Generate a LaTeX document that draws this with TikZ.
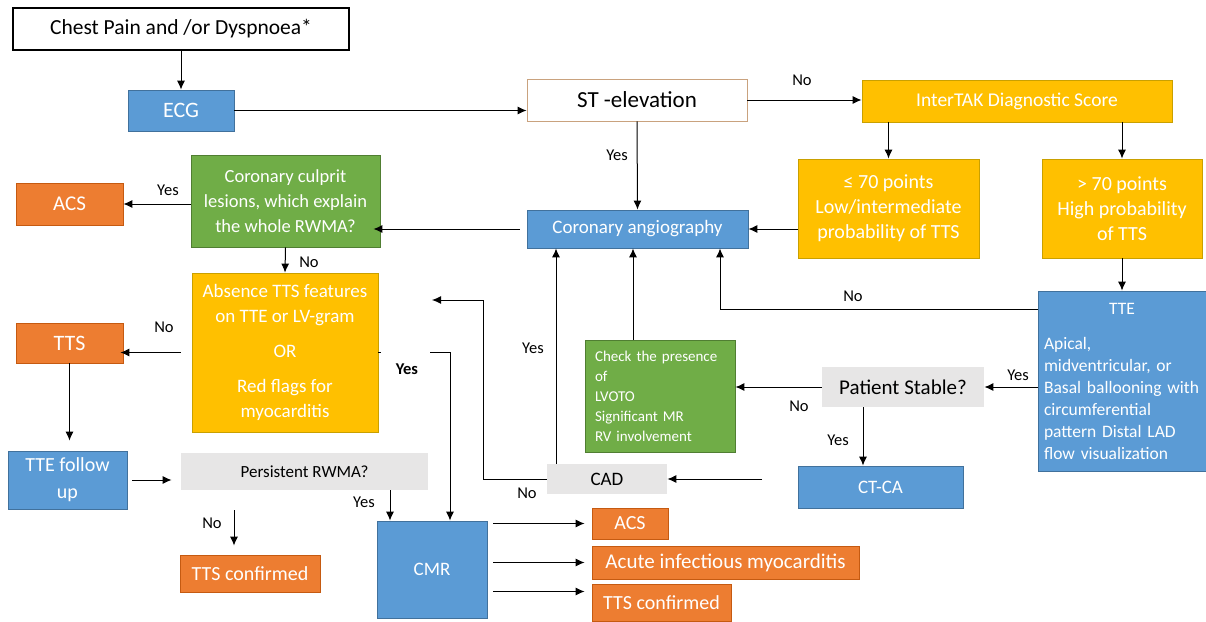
\documentclass[tikz,border=0pt]{standalone}
\usepackage{fontspec}
\setmainfont{Carlito}
\usetikzlibrary{arrows.meta}
\definecolor{cblue}{HTML}{5B9BD5}
\definecolor{cblueD}{HTML}{41719C}
\definecolor{corange}{HTML}{ED7D31}
\definecolor{corangeD}{HTML}{C55A11}
\definecolor{camber}{HTML}{FFC000}
\definecolor{camberD}{HTML}{C9A000}
\definecolor{cgreen}{HTML}{70AD47}
\definecolor{cgreenD}{HTML}{507E32}
\definecolor{cgrey}{HTML}{E7E6E6}
\definecolor{cst}{HTML}{C9A27E}
\newcommand{\myfs}[2]{\fontsize{#1}{#2}\selectfont}
\begin{document}
\begin{tikzpicture}[x=1pt,y=-1pt,
 box/.style={draw, line width=0.8pt, align=center, inner sep=2pt, text=white},
 bluebox/.style={box, fill=cblue, draw=cblueD},
 orbox/.style={box, fill=corange, draw=corangeD},
 ambox/.style={box, fill=camber, draw=camberD},
 grbox/.style={box, fill=cgreen, draw=cgreenD},
 greybox/.style={box, fill=cgrey, draw=none, text=black},
 arr/.style={-{Latex[length=9pt,width=8pt]}, line width=1pt},
 lab/.style={font=\myfs{16.5}{18}, inner sep=0pt},
 sz/.style 2 args={minimum width=#1, minimum height=#2}
]
\useasboundingbox[fill=white] (0,0) rectangle (1206,621);

% nodes
\node[box, fill=white, draw=black, line width=1.2pt, text=black, sz={336pt}{42pt}, font=\myfs{21.5}{26}] (chest) at (181,29) {Chest Pain and /or Dyspnoea*};
\node[bluebox, sz={106pt}{41pt}, font=\myfs{22}{26}] (ecg) at (181,110.5) {ECG};
\node[box, fill=white, draw=cst, text=black, sz={220pt}{42pt}, font=\myfs{23}{26}] (st) at (637,100) {ST -elevation};
\node[ambox, sz={310pt}{42pt}, font=\myfs{19.5}{24}] (itak) at (1017,101) {InterTAK Diagnostic Score};
\node[ambox, sz={181pt}{99pt}, font=\myfs{20}{25}] (le70) at (888.5,208.5) {≤ 70 points\\Low/intermediate\\probability of TTS};
\node[ambox, sz={160pt}{99pt}, font=\myfs{20}{25}] (gt70) at (1122,208.5) {> 70 points\\High probability\\of TTS};
\node[bluebox, sz={168pt}{180pt}, font=\myfs{17.5}{22}, text width=156pt, inner xsep=6pt, align=left] (tte) at (1122,381)
  {\makebox[\hsize][c]{TTE}\\[13pt]Apical,\\midventricular, or\\Basal ballooning with\\circumferential\\pattern Distal LAD\\flow visualization};
\node[bluebox, sz={221pt}{38pt}, font=\myfs{19}{24}] (ca) at (637.5,229) {Coronary angiography};
\node[grbox, sz={189pt}{92pt}, font=\myfs{18.5}{25}] (culprit) at (285.5,201) {Coronary culprit\\lesions, which explain\\the whole RWMA?};
\node[orbox, sz={107pt}{42pt}, font=\myfs{21}{25}] (acs1) at (69.5,204) {ACS};
\node[ambox, sz={186pt}{159pt}, font=\myfs{19}{25}] (absn) at (285,352.5) {Absence TTS features\\on TTE or LV-gram\\[10pt]OR\\[10pt]Red flags for\\myocarditis};
\node[orbox, sz={107pt}{40pt}, font=\myfs{22}{25}] (tts1) at (69.5,343) {TTS};
\node[bluebox, sz={119pt}{58pt}, font=\myfs{20}{27}] (ttefu) at (67.5,480) {TTE follow\\up};
\node[greybox, sz={247pt}{37pt}, font=\myfs{17}{22}] (pers) at (304.5,471.5) {Persistent RWMA?};
\node[orbox, sz={140pt}{37pt}, font=\myfs{20}{24}] (ttsc1) at (250,573.5) {TTS confirmed};
\node[bluebox, sz={110pt}{97pt}, font=\myfs{19}{24}] (cmr) at (432,569.5) {CMR};
\node[grbox, sz={150pt}{112pt}, font=\myfs{15}{20}, text width=130pt, inner xsep=10pt, align=left] (check) at (660,396) {Check the presence\\of\\LVOTO\\Significant MR\\RV involvement};
\node[greybox, sz={162pt}{40pt}, font=\myfs{21}{25}] (stable) at (903,387) {Patient Stable?};
\node[greybox, sz={120pt}{30pt}, font=\myfs{19}{24}] (cad) at (607,479) {CAD};
\node[bluebox, sz={165pt}{42pt}, font=\myfs{19}{24}] (ctca) at (880.5,487) {CT-CA};
\node[orbox, sz={76pt}{31pt}, font=\myfs{20}{24}] (acs2) at (630,523.5) {ACS};
\node[orbox, sz={267pt}{33pt}, font=\myfs{21}{24}] (aim) at (725.5,562.5) {Acute infectious myocarditis};
\node[orbox, sz={139pt}{37pt}, font=\myfs{20}{24}] (ttsc2) at (661.5,602.5) {TTS confirmed};

% free coordinates
\coordinate (cadin) at (762,479);
\coordinate (absin) at (432,300);
\coordinate (yesst) at (430,352);

% connectors
\draw[arr] (chest) -- (ecg);
\draw[arr] (ecg.east) -- (ecg.east -| st.west);
\draw[arr] (st.east) -- (st.east -| itak.west);
\draw[arr] (st.south) -- (ca.north);
\draw[arr] (le70.north |- itak.south) -- (le70.north);
\draw[arr] (gt70.north |- itak.south) -- (gt70.north);
\draw[arr] (gt70.south) -- (tte.north);
\draw[arr] (ca.east -| le70.west) -- (ca.east);
\draw[arr] ([yshift=-19pt]tte.north west) -| ([xshift=82.5pt]ca.south);
\draw[arr] (stable.east -| tte.west) -- (stable.east);
\draw[arr] (stable.west) -- (stable.west -| check.east);
\draw[arr] ([xshift=-40pt]stable.south) -- ([xshift=-40pt]stable.south |- ctca.north);
\draw[arr] ([xshift=-27pt]check.north) -- ([xshift=-27pt]check.north |- ca.south);
\draw[arr] ([xshift=-51pt]cad.north) -- ([xshift=-51pt]cad.north |- ca.south);
\draw[arr] (cadin) -- (cadin -| cad.east);
\draw[arr] (cad.west) -- ++(-63,0) |- (absin);
\draw[line width=1pt] (absn.east) -- ++(3,0);
\draw[arr] (yesst) -| ([xshift=18pt]cmr.north);
\draw[arr] (acs1.east -| culprit.west) -- (acs1.east);
\draw[arr] ([xshift=-7pt]ca.west) -- ([xshift=-7pt]ca.west -| culprit.east);
\draw[arr] (culprit.south) -- (absn.north);
\draw[arr] ([xshift=-11pt]absn.west) -- ([xshift=-3pt]absn.west -| tts1.east);
\draw[arr, shorten >=10pt] (tts1.south) -- (tts1.south |- ttefu.north);
\draw[arr, shorten <=5pt, shorten >=9pt] (ttefu.east) -- (ttefu.east -| pers.west);
\draw[arr, shorten <=20pt, shorten >=9pt] ([xshift=-16pt]ttsc1.north |- pers.south) -- ([xshift=-16pt]ttsc1.north);
\draw[arr] ([xshift=-42pt]cmr.north |- pers.south) -- ([xshift=-42pt]cmr.north);
\draw[arr, shorten <=6pt, shorten >=7pt] (acs2.west -| cmr.east) -- (acs2.west);
\draw[arr, shorten <=6pt, shorten >=7pt] (aim.west -| cmr.east) -- (aim.west);
\draw[arr, shorten <=6pt, shorten >=7pt] ([yshift=11pt]ttsc2.west -| cmr.east) -- ([yshift=11pt]ttsc2.west);

% labels
\node[lab] (l1) at (802,80) {No};
\node[lab] (l2) at (617,155) {Yes};
\node[lab] (l3) at (853,296) {No};
\node[lab] (l4) at (1018,375) {Yes};
\node[lab] (l5) at (799,406) {No};
\node[lab] (l6) at (838,440) {Yes};
\node[lab] (l7) at (533,348) {Yes};
\node[lab] (l8) at (527,493) {No};
\node[lab, font=\myfs{16.5}{18}\bfseries] (l9) at (407,369) {Yes};
\node[lab] (l10) at (364,502) {Yes};
\node[lab] (l11) at (212,523) {No};
\node[lab] (l12) at (164,327) {No};
\node[lab] (l13) at (309,262) {No};
\node[lab] (l14) at (168,190) {Yes};
\end{tikzpicture}
\end{document}
